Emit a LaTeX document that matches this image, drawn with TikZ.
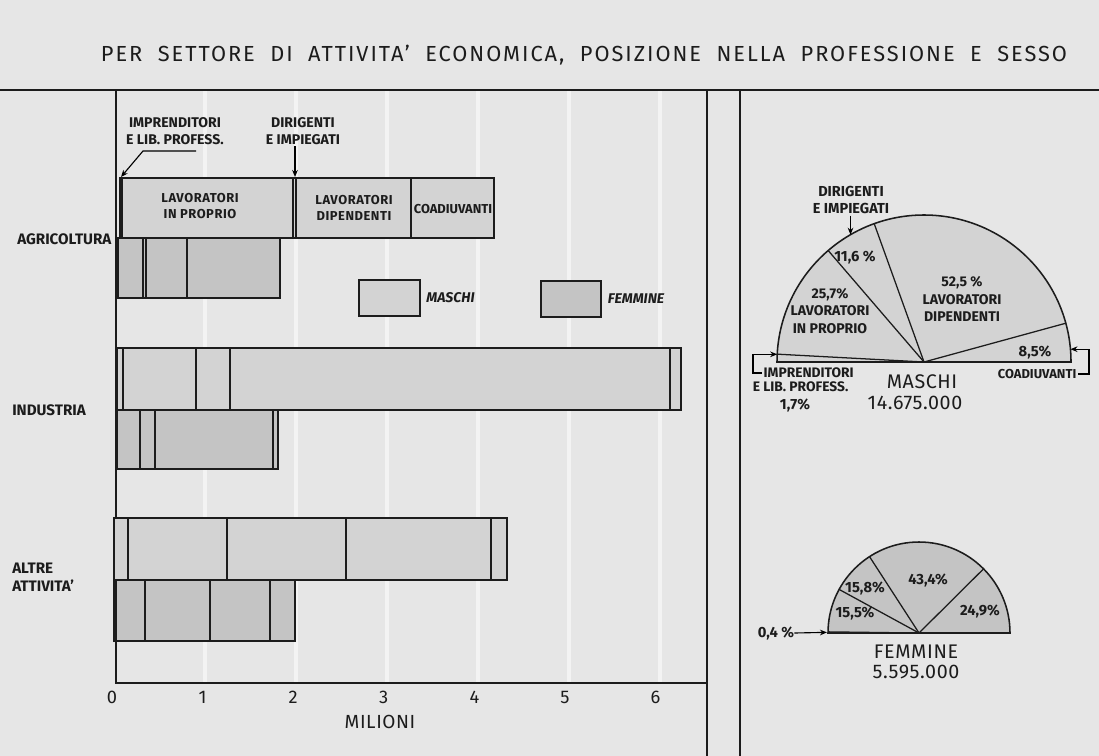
\documentclass[tikz,border=0pt]{standalone}
\usepackage{fontspec}
\setmainfont{Fira Sans}
\usepackage{tikz}
\usetikzlibrary{positioning}
\usetikzlibrary{arrows.meta}
\definecolor{paper}{HTML}{E6E6E6}
\definecolor{malegray}{HTML}{D3D3D3}
\definecolor{femalegray}{HTML}{C4C4C4}
\definecolor{gridwhite}{HTML}{F3F3F3}
\definecolor{ink}{HTML}{1C1C1C}

\begin{document}
\begin{tikzpicture}[
x=0.025cm, y=-0.025cm, >={Stealth[length=5pt,width=4pt]},
malebar/.style={draw=ink, fill=malegray, line width=1.1pt},
femalebar/.style={draw=ink, fill=femalegray, line width=1.1pt},
divider/.style={draw=ink, line width=0.9pt},
frameline/.style={draw=ink, line width=1.2pt},
gridline/.style={draw=gridwhite, line width=3.5pt},
titletext/.style={font=\addfontfeatures{LetterSpace=9}\fontsize{15.5}{18}\selectfont, text=ink, inner sep=0pt},
barlabel/.style={font=\bfseries\fontsize{9.2}{11}\selectfont, align=center, inner sep=1pt, text=ink},
spacedlabel/.style={barlabel, font=\bfseries\addfontfeatures{LetterSpace=4}\fontsize{9.2}{11.5}\selectfont},
toplabel/.style={barlabel, font=\bfseries\fontsize{10}{12}\selectfont},
rowlabel/.style={font=\bfseries\fontsize{10.8}{13}\selectfont, align=left, anchor=west, inner sep=0pt, text=ink},
ticklabel/.style={font=\fontsize{13}{15}\selectfont, inner sep=0pt, text=ink},
legendbox/.style={rectangle, draw=ink, line width=1.1pt, minimum width=43pt, minimum height=25.5pt, inner sep=0pt},
keylabel/.style={font=\bfseries\itshape\fontsize{10}{12}\selectfont, inner sep=0pt, text=ink},
pielabel/.style={font=\bfseries\fontsize{9.2}{11}\selectfont, align=center, inner sep=1pt, text=ink},
percentlabel/.style={font=\bfseries\fontsize{10.5}{12}\selectfont, inner sep=0pt, text=ink},
pietitle/.style={font=\addfontfeatures{LetterSpace=3}\fontsize{14}{17}\selectfont, align=center, inner sep=0pt, text=ink},
]
%Background and frame
\fill[paper] (0,0) rectangle (1099,756);
\useasboundingbox (0,0) rectangle (1099,756);
\draw[gridline] (205,91) -- (205,682);
\draw[gridline] (296,91) -- (296,682);
\draw[gridline] (387,91) -- (387,682);
\draw[gridline] (478,91) -- (478,682);
\draw[gridline] (569,91) -- (569,682);
\draw[gridline] (660,91) -- (660,682);
\draw[frameline] (0,90) -- (1099,90);
\draw[frameline] (116,90) -- (116,683) -- (707,683);
\draw[frameline] (707,90) -- (707,756);
\draw[frameline] (740,90) -- (740,756);

%Title
\node[titletext] (title) at (584,55) {PER\ \ SETTORE\ \ DI\ \ ATTIVITA’\ \ ECONOMICA,\ \ POSIZIONE\ \ NELLA\ \ PROFESSIONE\ \ E\ \ SESSO};

%Bars agricoltura
\draw[malebar] (120,178) rectangle (494,238);
\draw[divider] (122,178) -- (122,238);
\draw[divider] (293,178) -- (293,238);
\draw[divider] (296,178) -- (296,238);
\draw[divider] (411,178) -- (411,238);
\draw[femalebar] (118,238) rectangle (280,298);
\draw[divider] (143,238) -- (143,298);
\draw[divider] (146,238) -- (146,298);
\draw[divider] (187,238) -- (187,298);

%Bars industria
\draw[malebar] (117,348) rectangle (681,410);
\draw[divider] (123,348) -- (123,410);
\draw[divider] (196,348) -- (196,410);
\draw[divider] (230,348) -- (230,410);
\draw[divider] (670,348) -- (670,410);
\draw[femalebar] (117,410) rectangle (278,469);
\draw[divider] (140,410) -- (140,469);
\draw[divider] (155,410) -- (155,469);
\draw[divider] (273,410) -- (273,469);

%Bars altre attivita
\draw[malebar] (114,518) rectangle (507,580);
\draw[divider] (128,518) -- (128,580);
\draw[divider] (227,518) -- (227,580);
\draw[divider] (346,518) -- (346,580);
\draw[divider] (491,518) -- (491,580);
\draw[femalebar] (114,580) rectangle (295,641);
\draw[divider] (116,580) -- (116,641);
\draw[divider] (145,580) -- (145,641);
\draw[divider] (210,580) -- (210,641);
\draw[divider] (270,580) -- (270,641);

%Bar labels
\node[spacedlabel] (inproprio)  at (200,206) {LAVORATORI\\IN PROPRIO};
\node[spacedlabel] (dipendenti) at (354,208) {LAVORATORI\\DIPENDENTI};
\node[barlabel] (coadiuvanti)   at (453,209) {COADIUVANTI};
\node[toplabel] (imprlabel)     at (175,131) {IMPRENDITORI\\E LIB. PROFESS.};
\node[toplabel] (dirlabel)      at (303,131) {DIRIGENTI\\E IMPIEGATI};
\coordinate (imprstart) at (196,151);
\coordinate (imprbend)  at (143,151);
\coordinate (imprtip)   at (121,177);
\coordinate (dirtip)    at (295,177);
\draw[->, line width=0.8pt] (imprstart) -- (imprbend) -- (imprtip);
\draw[->, line width=0.8pt] (dirlabel.south -| dirtip) -- (dirtip);

%Row labels
\node[rowlabel] (agricoltura) at (17,239) {AGRICOLTURA};
\node[rowlabel] (industria)   at (12,410) {INDUSTRIA};
\node[rowlabel] (altre)       at (12,577) {ALTRE\\ATTIVITA’};

%Legend
\node[legendbox, fill=malegray]   (malekey)   at (389.5,298) {};
\node[keylabel]   (malekeytext)   [right=4pt of malekey]   {MASCHI};
\node[legendbox, fill=femalegray] (femalekey) at (571,299) {};
\node[keylabel]   (femalekeytext) [right=4pt of femalekey] {FEMMINE};

%Axis
\node[ticklabel] (tick0) at (112,697) {0};
\node[ticklabel] (tick1) at (202.6,697) {1};
\node[ticklabel] (tick2) at (293.2,697) {2};
\node[ticklabel] (tick3) at (383.8,697) {3};
\node[ticklabel] (tick4) at (474.4,697) {4};
\node[ticklabel] (tick5) at (565,697) {5};
\node[ticklabel] (tick6) at (655.6,697) {6};
\node[ticklabel, font=\addfontfeatures{LetterSpace=3}\fontsize{13.5}{15}\selectfont] (milioni) at (380,722) {MILIONI};

%Pie maschi
\begin{scope}[shift={(924,362)}, y=0.025cm]
\filldraw[draw=ink, fill=malegray, line width=1.1pt] (147,0) arc (0:180:147) -- cycle;
\draw[divider] (0,0) -- (176.94:147);
\draw[divider] (0,0) -- (130.68:147);
\draw[divider] (0,0) -- (109.8:147);
\draw[divider] (0,0) -- (15.3:147);
\node[percentlabel] (m116) at (-69,105) {11,6 \%};
\node[pielabel, font=\bfseries\fontsize{10}{12.5}\selectfont] (m257) at (-94,51) {25,7\%\\LAVORATORI\\IN PROPRIO};
\node[pielabel, font=\bfseries\fontsize{10}{12.5}\selectfont] (m525) at (38,63) {52,5 \%\\LAVORATORI\\DIPENDENTI};
\node[percentlabel] (m85) at (111,10) {8,5\%};
\node[pielabel, font=\bfseries\fontsize{10.3}{12.5}\selectfont] (mdirlabel) at (-73,162) {DIRIGENTI\\E IMPIEGATI};
\coordinate (mdirtip) at (120:147);
\draw[->, line width=0.8pt] (mdirlabel.south -| mdirtip) -- (mdirtip);
\node[pielabel, anchor=west, font=\bfseries\fontsize{9.8}{12}\selectfont] (mimprlabel) at (-162,-11) {IMPRENDITORI};
\node[pielabel, anchor=north east, font=\bfseries\fontsize{9.8}{12}\selectfont] (mimprlabel2) at (-74,-18) {E LIB. PROFESS.};
\node[percentlabel] (m17) at (-129,-43) {1,7\%};
\coordinate (mimprtip) at (177:147);
\draw[->, line width=0.8pt] (mimprlabel.west) -- ++(-9,0) |- (mimprtip);
\node[pielabel, anchor=east] (mcoadlabel) at (154,-12) {COADIUVANTI};
\coordinate (mcoadtip) at (5:147);
\draw[->, line width=0.8pt] (mcoadlabel.east) -- ++(11,0) |- (mcoadtip);
\node[pietitle] (maschititle) at (-2,-20) {MASCHI};
\node[pietitle] (maschitotal) at (-9,-41) {14.675.000};
\end{scope}

%Pie femmine
\begin{scope}[shift={(919,633)}, y=0.025cm]
\filldraw[draw=ink, fill=femalegray, line width=1.1pt] (91,0) arc (0:180:91) -- cycle;
\draw[divider] (0,0) -- (179.28:91);
\draw[divider] (0,0) -- (151.38:91);
\draw[divider] (0,0) -- (122.94:91);
\draw[divider] (0,0) -- (44.82:91);
\node[percentlabel] (f155) at (-64,20) {15,5\%};
\node[percentlabel] (f158) at (-54,45) {15,8\%};
\node[percentlabel] (f434) at (9,53) {43,4\%};
\node[percentlabel] (f249) at (61,22) {24,9\%};
\node[percentlabel] (f04) at (-143,0) {0,4 \%};
\coordinate (f04tip) at (179.6:92);
\draw[->, line width=0.8pt] (f04.east) -- (f04tip);
\node[pietitle] (femminetitle) at (-3,-19) {FEMMINE};
\node[pietitle] (femminetotal) at (-3,-39) {5.595.000};
\end{scope}
\end{tikzpicture}
\end{document}
